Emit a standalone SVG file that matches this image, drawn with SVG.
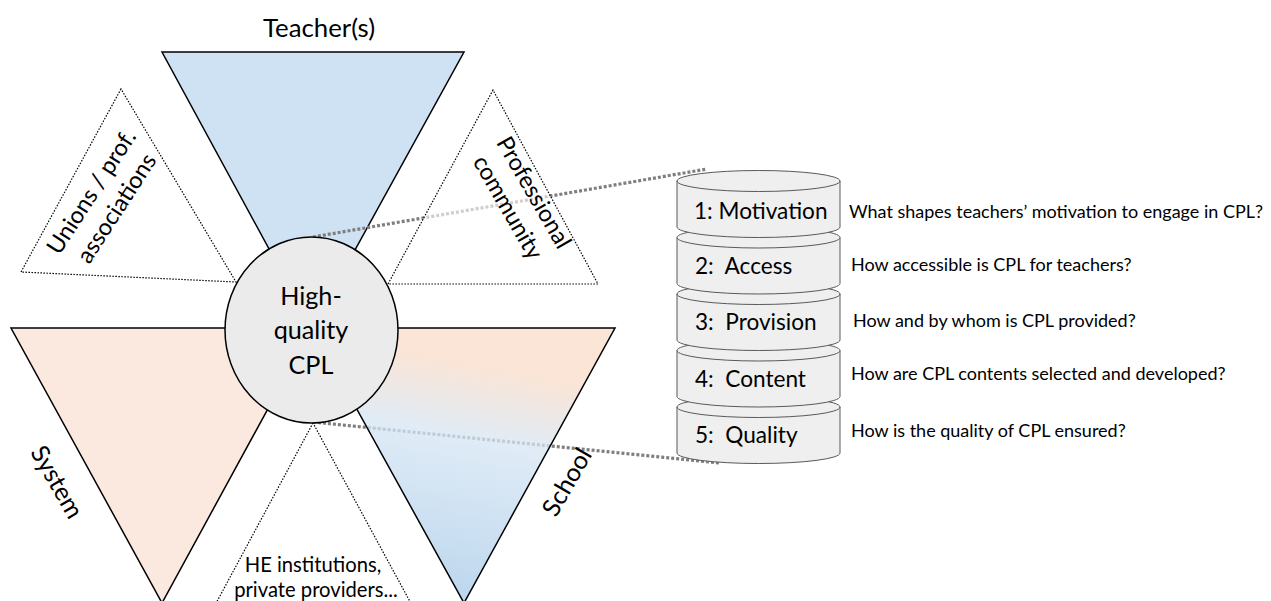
<svg xmlns="http://www.w3.org/2000/svg" width="1271" height="601" viewBox="0 0 1271 601">
<style>
text { font-family: Lato, "Liberation Sans", sans-serif; fill: #000; }
.big { stroke: #000; stroke-width: 1.5; stroke-linejoin: miter; }
.dot { fill: none; stroke: #000; stroke-width: 1.2; stroke-dasharray: 1.5 1.5; }
.conn { fill: none; stroke: #7F7F7F; stroke-width: 3.2; stroke-dasharray: 3 2; }
.cyl { fill: #EFEFEF; stroke: #595959; stroke-width: 1; }
.cylf { fill: none; stroke: #595959; stroke-width: 1; }
.lab { font-size: 22.6px; }
.q { font-size: 18px; }
.mid { text-anchor: middle; }
</style>
<defs>
<linearGradient id="schoolGrad" gradientUnits="userSpaceOnUse" x1="490" y1="328" x2="440" y2="592">
<stop offset="0" stop-color="#F9DCC8"/>
<stop offset="0.14" stop-color="#F9DCC8"/>
<stop offset="0.42" stop-color="#D5E5F4"/>
<stop offset="1" stop-color="#A7CAE8"/>
</linearGradient>
<g id="cylShape">
<path class="cyl" d="M0,0 A81.5,10.5 0 0 1 163,0 L163,46 A81.5,10.5 0 0 1 0,46 Z"/>
<path class="cylf" d="M0,0 A81.5,10.5 0 0 0 163,0"/>
</g>
</defs>
<rect width="1271" height="601" fill="#FFFFFF"/>

<g id="teacher">
<polygon class="big" fill="#CFE2F3" points="162,52 464,52 312,328"/>
<text class="mid" x="319" y="37" font-size="25.8">Teacher(s)</text>
</g>

<g id="system">
<polygon class="big" fill="#FBE9DF" points="11,328 312,328 162,603"/>
<text class="mid" transform="translate(57,482) rotate(60)" x="0" y="8.5" font-size="25">System</text>
</g>

<g id="unions">
<polygon class="dot" points="121,89 21,272 236,282"/>
<g transform="translate(104,200) rotate(-57)">
<text class="mid" x="0" y="-7" font-size="23.5">Unions / prof.</text>
<text class="mid" x="0" y="23" font-size="23.5">associations</text>
</g>
</g>

<g id="he">
<polygon class="dot" points="313,423 207,620 420,620"/>
<text class="mid" x="313" y="572" font-size="20.2">HE institutions,</text>
<text class="mid" x="316" y="597" font-size="20.2">private providers...</text>
</g>

<g id="connectors">
<line class="conn" x1="313" y1="237" x2="707" y2="169"/>
<line class="conn" x1="313" y1="422" x2="720" y2="463"/>
</g>

<g id="professional">
<polygon class="dot" fill="#FFFFFF" fill-opacity="0.62" style="fill:#FFFFFF" points="493,90 388,284 598,284"/>
<g transform="translate(521,200) rotate(60)">
<text class="mid" x="0" y="-7" font-size="23.5">Professional</text>
<text class="mid" x="0" y="23" font-size="23.5">community</text>
</g>
</g>

<g id="school">
<polygon class="big" fill="url(#schoolGrad)" fill-opacity="0.75" points="312,328 615,328 464,603"/>
<text class="mid" transform="translate(567,482) rotate(-60)" x="0" y="8.5" font-size="25">School</text>
</g>

<g id="cpl">
<ellipse cx="311.5" cy="330" rx="86.5" ry="93" fill="#EBEBEB" stroke="#000" stroke-width="1.5"/>
<text class="mid" x="311" y="305" font-size="25.2">High-</text>
<text class="mid" x="311" y="339" font-size="25.2">quality</text>
<text class="mid" x="311" y="374" font-size="25.2">CPL</text>
</g>

<g id="quality">
<use href="#cylShape" x="677" y="407"/>
<text class="lab" x="695" y="443" xml:space="preserve">5:  Quality</text>
<text class="q" x="851" y="437">How is the quality of CPL ensured?</text>
</g>

<g id="content">
<use href="#cylShape" x="677" y="350.5"/>
<text class="lab" x="695" y="387" xml:space="preserve">4:  Content</text>
<text class="q" x="851" y="380">How are CPL contents selected and developed?</text>
</g>

<g id="provision">
<use href="#cylShape" x="677" y="294"/>
<text class="lab" x="695" y="330" xml:space="preserve">3:  Provision</text>
<text class="q" x="853" y="327">How and by whom is CPL provided?</text>
</g>

<g id="access">
<use href="#cylShape" x="677" y="237.5"/>
<text class="lab" x="695" y="274" xml:space="preserve">2:  Access</text>
<text class="q" x="851" y="271">How accessible is CPL for teachers?</text>
</g>

<g id="motivation">
<use href="#cylShape" x="677" y="181"/>
<text class="lab" x="694" y="219">1: Motivation</text>
<text class="q" x="849" y="218">What shapes teachers’ motivation to engage in CPL?</text>
</g>
</svg>
